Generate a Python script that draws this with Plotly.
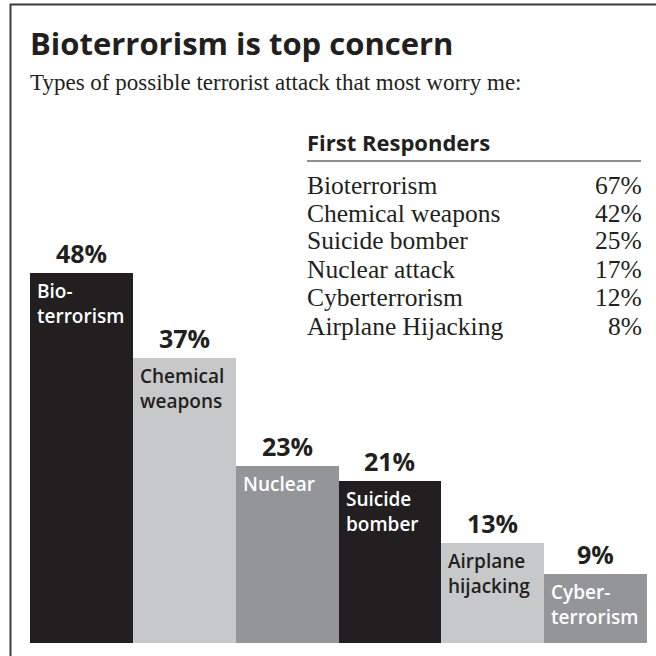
import plotly.graph_objects as go

# ---- data ----
categories = ["Bioterrorism", "Chemical weapons", "Nuclear", "Suicide bomber",
              "Airplane hijacking", "Cyberterrorism"]
bar_labels = ["Bio-<br>terrorism", "Chemical<br>weapons", "Nuclear",
              "Suicide<br>bomber", "Airplane<br>hijacking", "Cyber-<br>terrorism"]
values = [48, 37, 23, 21, 13, 9]
bar_colors = ["#231f20", "#c7c8ca", "#939598", "#231f20", "#c7c8ca", "#939598"]
label_colors = ["#ffffff", "#231f20", "#ffffff", "#ffffff", "#231f20", "#ffffff"]

responder_labels = ["Bioterrorism", "Chemical weapons", "Suicide bomber",
                    "Nuclear attack", "Cyberterrorism", "Airplane Hijacking"]
responder_values = ["67%", "42%", "25%", "17%", "12%", "8%"]

title = "Bioterrorism is top concern"
subtitle = "Types of possible terrorist attack that most worry me:"
table_title = "First Responders"

# ---- layout geometry ----
W = H = 656
L, R, T, B = 30, 9, 26, 13
PW, PH = W - L - R, H - T - B
DARK = "#231f20"
SANS = "Open Sans, Roboto, sans-serif"
SERIF = "Liberation Serif, DejaVu Serif, serif"


def px(xp):
    return (xp - L) / PW


def py(yp):
    return (H - B - yp) / PH


fig = go.Figure()
fig.add_trace(go.Bar(
    x=list(range(len(values))), y=values, width=1,
    marker=dict(color=bar_colors, line=dict(width=0)),
    hoverinfo="skip", showlegend=False,
))

annotations = []
for i, (v, lab, lc) in enumerate(zip(values, bar_labels, label_colors)):
    annotations.append(dict(
        x=i, y=v, xref="x", yref="y", text=f"<b>{v}%</b>", showarrow=False,
        xanchor="center", yanchor="bottom", yshift=1,
        font=dict(family=SANS, size=25, color=DARK),
    ))
    annotations.append(dict(
        x=i - 0.5, y=v, xref="x", yref="y", text=lab, showarrow=False,
        xanchor="left", yanchor="top", xshift=5, yshift=-3, align="left",
        font=dict(family=SANS, size=19, color=lc, weight=600),
    ))

# titles
annotations.append(dict(
    x=px(28), y=py(20), xref="paper", yref="paper", text=f"<b>{title}</b>",
    showarrow=False, xanchor="left", yanchor="top",
    font=dict(family=SANS, size=31, color=DARK),
))
annotations.append(dict(
    x=px(28), y=py(82), xref="paper", yref="paper", text=subtitle,
    showarrow=False, xanchor="left", yanchor="middle",
    font=dict(family=SERIF, size=23, color=DARK),
))

# responders table
annotations.append(dict(
    x=px(305), y=py(142), xref="paper", yref="paper", text=f"<b>{table_title}</b>",
    showarrow=False, xanchor="left", yanchor="middle",
    font=dict(family=SANS, size=22, color=DARK),
))
row_centers = [185, 213, 241, 269.5, 297.5, 326]
for yc, lab, val in zip(row_centers, responder_labels, responder_values):
    annotations.append(dict(
        x=px(305), y=py(yc), xref="paper", yref="paper", text=lab,
        showarrow=False, xanchor="left", yanchor="middle",
        font=dict(family=SERIF, size=25.5, color=DARK),
    ))
    annotations.append(dict(
        x=px(644), y=py(yc), xref="paper", yref="paper", text=val,
        showarrow=False, xanchor="right", yanchor="middle",
        font=dict(family=SERIF, size=25.5, color=DARK),
    ))

shapes = [
    # frame
    dict(type="line", xref="paper", yref="paper", x0=px(10), x1=px(W + 5),
         y0=py(4.5), y1=py(4.5), line=dict(color="#3d3d3f", width=2)),
    dict(type="line", xref="paper", yref="paper", x0=px(10.5), x1=px(10.5),
         y0=py(4), y1=py(H + 5), line=dict(color="#3d3d3f", width=2)),
    # table rule
    dict(type="line", xref="paper", yref="paper", x0=px(307), x1=px(641),
         y0=py(161), y1=py(161), line=dict(color=DARK, width=1.2)),
]

fig.update_layout(
    width=W, height=H, margin=dict(l=L, r=R, t=T, b=B),
    paper_bgcolor="white", plot_bgcolor="white",
    bargap=0, showlegend=False,
    xaxis=dict(range=[-0.5, len(values) - 0.5], visible=False, fixedrange=True),
    yaxis=dict(range=[0, 80], visible=False, fixedrange=True),
    annotations=annotations, shapes=shapes,
)

fig.write_html("out.html", config={"displayModeBar": False})
